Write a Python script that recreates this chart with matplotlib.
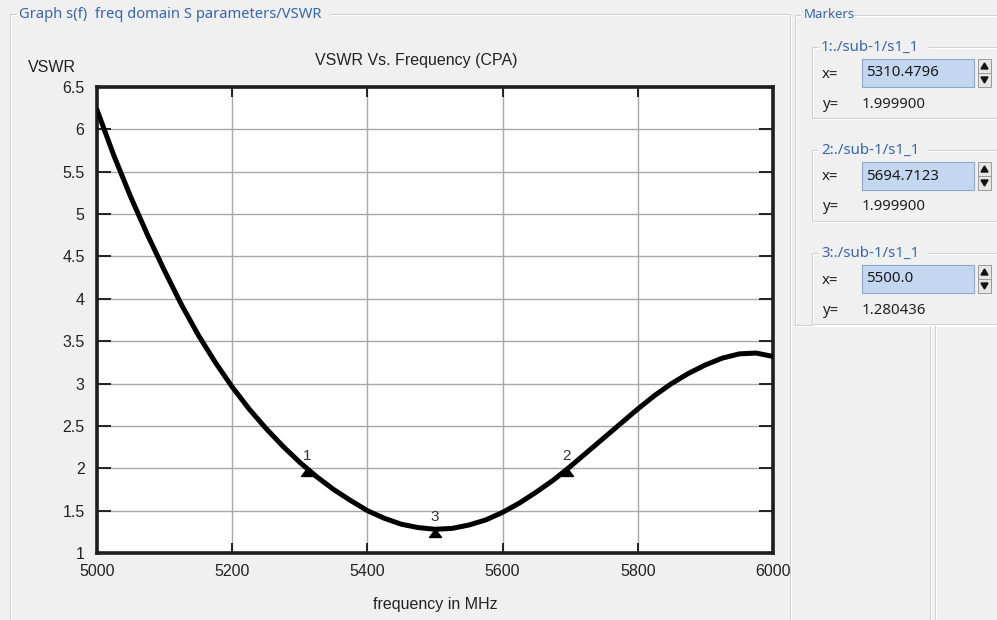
import numpy as np
import matplotlib.pyplot as plt
from matplotlib.patches import Rectangle, Polygon

# VSWR sweep, frequency in MHz
freq = [5000, 5025, 5050, 5075, 5100, 5125, 5150, 5175, 5200, 5225, 5250,
        5275, 5300, 5325, 5350, 5375, 5400, 5425, 5450, 5475, 5500, 5525,
        5550, 5575, 5600, 5625, 5650, 5675, 5700, 5725, 5750, 5775, 5800,
        5825, 5850, 5875, 5900, 5925, 5950, 5975, 6000]
vswr = [6.23, 5.69, 5.20, 4.75, 4.33, 3.93, 3.57, 3.25, 2.96, 2.70, 2.47,
        2.26, 2.07, 1.90, 1.75, 1.62, 1.50, 1.41, 1.34, 1.30, 1.28, 1.29,
        1.33, 1.39, 1.48, 1.59, 1.72, 1.86, 2.02, 2.19, 2.36, 2.53, 2.70,
        2.86, 3.00, 3.12, 3.22, 3.30, 3.35, 3.36, 3.32]

# markers
marker_ids = ['1', '2', '3']
marker_x = [5310.4796, 5694.7123, 5500.0]
marker_y = [1.999900, 1.999900, 1.280436]
marker_x_text = ['5310.4796', '5694.7123', '5500.0']
marker_src = './sub-1/s1_1'

x_ticks = [5000, 5200, 5400, 5600, 5800, 6000]
y_ticks = [1, 1.5, 2, 2.5, 3, 3.5, 4, 4.5, 5, 5.5, 6, 6.5]
y_tick_labels = ['1', '1.5', '2', '2.5', '3', '3.5', '4', '4.5', '5', '5.5', '6', '6.5']

W, H = 997, 620
BG = '#f0f0f0'
BLUE = '#3566b0'
PLOT_FONT = 'Liberation Sans'
UI_FONT = 'Noto Sans'

fig = plt.figure(figsize=(W / 100, H / 100), dpi=100, facecolor=BG)

# pixel canvas for the window panels
ui = fig.add_axes([0, 0, 1, 1])
ui.set_xlim(0, W)
ui.set_ylim(H, 0)
ui.axis('off')


def etched(x0, y0, x1, y1):
    ui.plot([x0, x1], [y0, y1], color='#d0d0d0', lw=0.8, solid_capstyle='butt')
    ui.plot([x0 + 1, x1 + 1], [y0 + 1, y1 + 1], color='white', lw=0.8, solid_capstyle='butt')


def group_box(x0, y0, x1, y1, title, title_w, fs):
    etched(x0, y0, x0 + 6, y0)
    etched(x0 + 12 + title_w, y0, x1, y0)
    etched(x0, y0, x0, y1)
    if x1 < W - 2:
        etched(x1, y0, x1, y1)
    if y1 < H - 2:
        etched(x0, y1, x1, y1)
    ui.text(x0 + 9, y0, title, color=BLUE, fontsize=fs, family=UI_FONT,
            ha='left', va='center')


# graph panel
group_box(10, 14, 790, H + 5, 'Graph s(f)  freq domain S parameters/VSWR', 308, 10.6)

# markers panel
group_box(795, 15, W + 5, 325, 'Markers', 46, 9.5)
etched(930, 325, 930, H)
etched(935, 325, 935, H)

FS = 10.8
for i, (mx_txt, my) in enumerate(zip(marker_x_text, marker_y)):
    top = 42 + i * 103
    group_box(812, top + 5, W + 5, top + 76, f'{marker_ids[i]}:{marker_src}', 104, FS)
    ui.text(822, top + 32, 'x=', fontsize=FS, family=UI_FONT, color='#222',
            ha='left', va='center')
    ui.add_patch(Rectangle((862, top + 17), 112, 28, facecolor='#c3d8f0',
                           edgecolor='#8aa8cc', lw=0.8))
    ui.text(866, top + 31, mx_txt, fontsize=FS, family=UI_FONT, color='#1a1a1a',
            ha='left', va='center')
    # spinner buttons
    ui.add_patch(Rectangle((978, top + 17), 13, 14, facecolor='#e6e6e6',
                           edgecolor='#9a9a9a', lw=0.7))
    ui.add_patch(Rectangle((978, top + 31), 13, 14, facecolor='#e6e6e6',
                           edgecolor='#9a9a9a', lw=0.7))
    ui.add_patch(Polygon([(981, top + 27), (988, top + 27), (984.5, top + 21)],
                         closed=True, color='#111'))
    ui.add_patch(Polygon([(981, top + 35), (988, top + 35), (984.5, top + 41)],
                         closed=True, color='#111'))
    ui.text(822, top + 62, 'y=', fontsize=FS, family=UI_FONT, color='#222',
            ha='left', va='center')
    ui.text(862, top + 62, f'{my:.6f}', fontsize=FS, family=UI_FONT,
            color='#222', ha='left', va='center')

# chart
ax = fig.add_axes([97 / W, 1 - 553 / H, 676 / W, 466 / H])
ax.set_facecolor('white')
ax.plot(freq, vswr, color='black', lw=3.6, solid_joinstyle='round',
        solid_capstyle='round', zorder=3)

# triangle with its apex on the marker value
tri = [(0, 0), (6, -8), (-6, -8), (0, 0)]
ax.plot(marker_x, marker_y, linestyle='none', marker=tri, markersize=11.5,
        color='black', zorder=4)
for mid, mx, my in zip(marker_ids, marker_x, marker_y):
    ax.annotate(mid, (mx, my), xytext=(0, 4), textcoords='offset points',
                ha='center', va='bottom', fontsize=11, family=PLOT_FONT,
                color='#333', zorder=5)

ax.set_xlim(5000, 6000)
ax.set_ylim(1, 6.5)
ax.set_xticks(x_ticks)
ax.set_yticks(y_ticks)
ax.set_yticklabels(y_tick_labels)
ax.grid(True, color='#a8a8a8', lw=1)
ax.set_axisbelow(True)
ax.tick_params(axis='y', direction='in', length=10, width=1.4, pad=9,
               right=True, labelsize=11.5, colors='#222')
ax.tick_params(axis='x', direction='in', length=7, width=1.4, pad=8,
               top=True, labelsize=11.5, colors='#222')
for lbl in ax.get_xticklabels() + ax.get_yticklabels():
    lbl.set_family(PLOT_FONT)
for sp in ax.spines.values():
    sp.set_linewidth(2.6)
    sp.set_color('#1e1e1e')

fig.text(416 / W, 1 - 60 / H, 'VSWR Vs. Frequency (CPA)', ha='center', va='center',
         fontsize=11.5, family=PLOT_FONT, color='#222')
fig.text(28 / W, 1 - 68 / H, 'VSWR', ha='left', va='center',
         fontsize=11.5, family=PLOT_FONT, color='#222')
fig.text(435 / W, 1 - 605 / H, 'frequency in MHz', ha='center', va='center',
         fontsize=11.5, family=PLOT_FONT, color='#222')

fig.savefig('out.png', dpi=100, facecolor=BG)
